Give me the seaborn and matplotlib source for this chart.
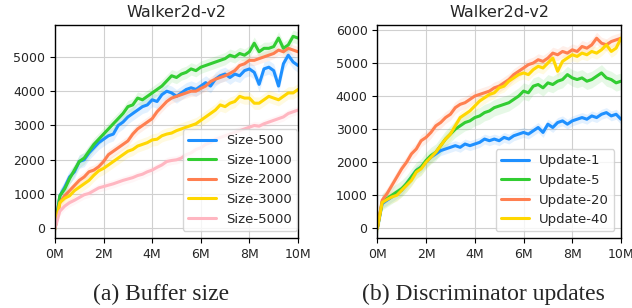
import numpy as np
import seaborn as sns
import matplotlib
matplotlib.use("Agg")
import matplotlib.pyplot as plt

# x axis: training steps in millions
steps = np.linspace(0, 10, 51)
xtick_pos = [0, 2, 4, 6, 8, 10]
xtick_labels = ["0M", "2M", "4M", "6M", "8M", "10M"]

# (a) buffer size
size_500 = [0, 950, 1200, 1500, 1650, 1950, 2000, 2200, 2350, 2500,
            2600, 2700, 2750, 3000, 3100, 3250, 3350, 3450, 3550, 3600,
            3750, 3700, 3900, 4000, 3950, 3850, 3950, 4050, 4100, 4050,
            4150, 4250, 4150, 4350, 4450, 4500, 4400, 4500, 4450, 4600,
            4650, 4550, 4200, 4650, 4700, 4600, 4150, 4800, 5050, 4850, 4750]
size_1000 = [0, 950, 1150, 1450, 1700, 1950, 2050, 2250, 2450, 2600,
             2750, 2900, 3050, 3200, 3350, 3550, 3600, 3800, 3750, 3850,
             3950, 4050, 4150, 4300, 4450, 4400, 4500, 4550, 4650, 4600,
             4700, 4750, 4800, 4850, 4900, 4950, 5050, 5000, 5100, 5050,
             5150, 5400, 5150, 5250, 5250, 5300, 5550, 5250, 5350, 5600, 5550]
size_2000 = [0, 750, 950, 1100, 1250, 1400, 1500, 1650, 1700, 1800,
             1950, 2150, 2250, 2350, 2450, 2550, 2750, 2900, 3000, 3100,
             3200, 3400, 3550, 3700, 3800, 3850, 3900, 3950, 4000, 4000,
             4080, 4150, 4280, 4350, 4400, 4450, 4520, 4600, 4750, 4800,
             4900, 4900, 4950, 5000, 5050, 5100, 5200, 5150, 5250, 5200, 5150]
size_3000 = [0, 750, 880, 950, 1100, 1200, 1300, 1400, 1550, 1680,
             1750, 1850, 1950, 2050, 2150, 2250, 2300, 2400, 2450, 2500,
             2580, 2600, 2700, 2750, 2780, 2850, 2900, 2950, 3000, 3050,
             3150, 3250, 3350, 3450, 3600, 3550, 3650, 3700, 3850, 3800,
             3800, 3650, 3650, 3750, 3850, 3800, 3750, 3850, 3950, 3950, 4050]
size_5000 = [0, 500, 650, 750, 820, 900, 980, 1020, 1100, 1180,
             1220, 1260, 1300, 1350, 1400, 1440, 1480, 1540, 1580, 1650,
             1700, 1780, 1850, 1950, 1980, 2000, 2050, 2150, 2200, 2300,
             2350, 2450, 2500, 2600, 2650, 2700, 2750, 2800, 2850, 2900,
             2950, 3000, 2980, 3050, 3100, 3150, 3200, 3250, 3350, 3400, 3450]
buffer_names = ["Size-500", "Size-1000", "Size-2000", "Size-3000", "Size-5000"]
buffer_spread = [200, 180, 150, 180, 120]

# (b) discriminator updates
update_1 = [0, 750, 850, 950, 1050, 1150, 1350, 1550, 1750, 1850,
            2000, 2150, 2250, 2350, 2400, 2450, 2500, 2450, 2550, 2500,
            2550, 2600, 2700, 2650, 2700, 2650, 2750, 2700, 2800, 2850,
            2900, 2850, 2950, 3050, 2900, 3150, 3050, 3200, 3250, 3150,
            3250, 3300, 3350, 3300, 3400, 3350, 3450, 3500, 3400, 3450, 3300]
update_5 = [0, 800, 900, 1000, 1100, 1200, 1350, 1550, 1750, 1850,
            2050, 2200, 2300, 2500, 2700, 2850, 3000, 3100, 3200, 3250,
            3350, 3400, 3500, 3550, 3650, 3700, 3750, 3800, 3900, 4000,
            4150, 4100, 4300, 4350, 4250, 4400, 4350, 4450, 4500, 4650,
            4550, 4500, 4550, 4450, 4500, 4600, 4700, 4550, 4500, 4400, 4450]
update_20 = [0, 850, 1050, 1300, 1550, 1800, 2000, 2250, 2400, 2650,
             2750, 2900, 3100, 3200, 3350, 3450, 3650, 3750, 3800, 3900,
             4000, 4050, 4100, 4150, 4250, 4300, 4400, 4500, 4650, 4750,
             4850, 4950, 5000, 5100, 5050, 5150, 5300, 5250, 5350, 5300,
             5400, 5350, 5500, 5450, 5550, 5750, 5600, 5550, 5650, 5700, 5750]
update_40 = [0, 780, 870, 950, 1000, 1150, 1300, 1450, 1700, 1800,
             2000, 2150, 2300, 2500, 2700, 2850, 3100, 3350, 3450, 3550,
             3700, 3850, 3950, 4050, 4100, 4250, 4300, 4450, 4550, 4650,
             4700, 4650, 4800, 4900, 4850, 5000, 5150, 4750, 5050, 5150,
             5250, 5200, 5300, 5250, 5350, 5300, 5400, 5550, 5350, 5450, 5750]
update_names = ["Update-1", "Update-5", "Update-20", "Update-40"]
update_spread = [150, 250, 180, 180]

colors = ["#1E90FF", "#32CD32", "#FF7F50", "#FFD700", "#FFB6C1"]

sns.set_style("whitegrid", {"axes.edgecolor": "black",
                            "xtick.bottom": True, "ytick.left": True,
                            "grid.color": "#d0d0d0"})
plt.rcParams["font.family"] = ["DejaVu Sans"]

fig = plt.figure(figsize=(6.32, 3.08), dpi=100)
ax1 = fig.add_axes([0.087, 0.2273, 0.3845, 0.6915])
ax2 = fig.add_axes([0.597, 0.2273, 0.3856, 0.6915])


def draw(ax, series, names, spread, cols):
    for vals, name, s, c in zip(series, names, spread, cols):
        vals = np.array(vals, dtype=float)
        ax.fill_between(steps, vals - s, vals + s, color=c, alpha=0.12, lw=0)
        sns.lineplot(x=steps, y=vals, ax=ax, color=c, lw=2.2, label=name)
    ax.set_xlim(0, 10)
    ax.set_xticks(xtick_pos)
    ax.set_xticklabels(xtick_labels)
    ax.set_title("Walker2d-v2", fontsize=11.5)
    ax.tick_params(labelsize=9, length=3.5, width=0.8, color="black")
    for sp in ax.spines.values():
        sp.set_linewidth(1.0)


draw(ax1, [size_500, size_1000, size_2000, size_3000, size_5000],
     buffer_names, buffer_spread, colors)
ax1.set_ylim(-280, 5930)
ax1.set_yticks([0, 1000, 2000, 3000, 4000, 5000])
ax1.legend(loc="lower right", bbox_to_anchor=(1.0, 0.03), borderaxespad=0.05,
           fontsize=9.5, handlelength=2.1)

draw(ax2, [update_1, update_5, update_20, update_40],
     update_names, update_spread, colors[:4])
ax2.set_ylim(-293, 6150)
ax2.set_yticks([0, 1000, 2000, 3000, 4000, 5000, 6000])
ax2.legend(loc="lower right", fontsize=9.5, handlelength=2.1)

fig.text(161.5 / 632, 0.045, "(a) Buffer size", ha="center", va="center",
         fontsize=17, family="Liberation Serif")
fig.text(483.5 / 632, 0.045, "(b) Discriminator updates", ha="center", va="center",
         fontsize=17, family="Liberation Serif")

fig.savefig("out.png", dpi=100)
